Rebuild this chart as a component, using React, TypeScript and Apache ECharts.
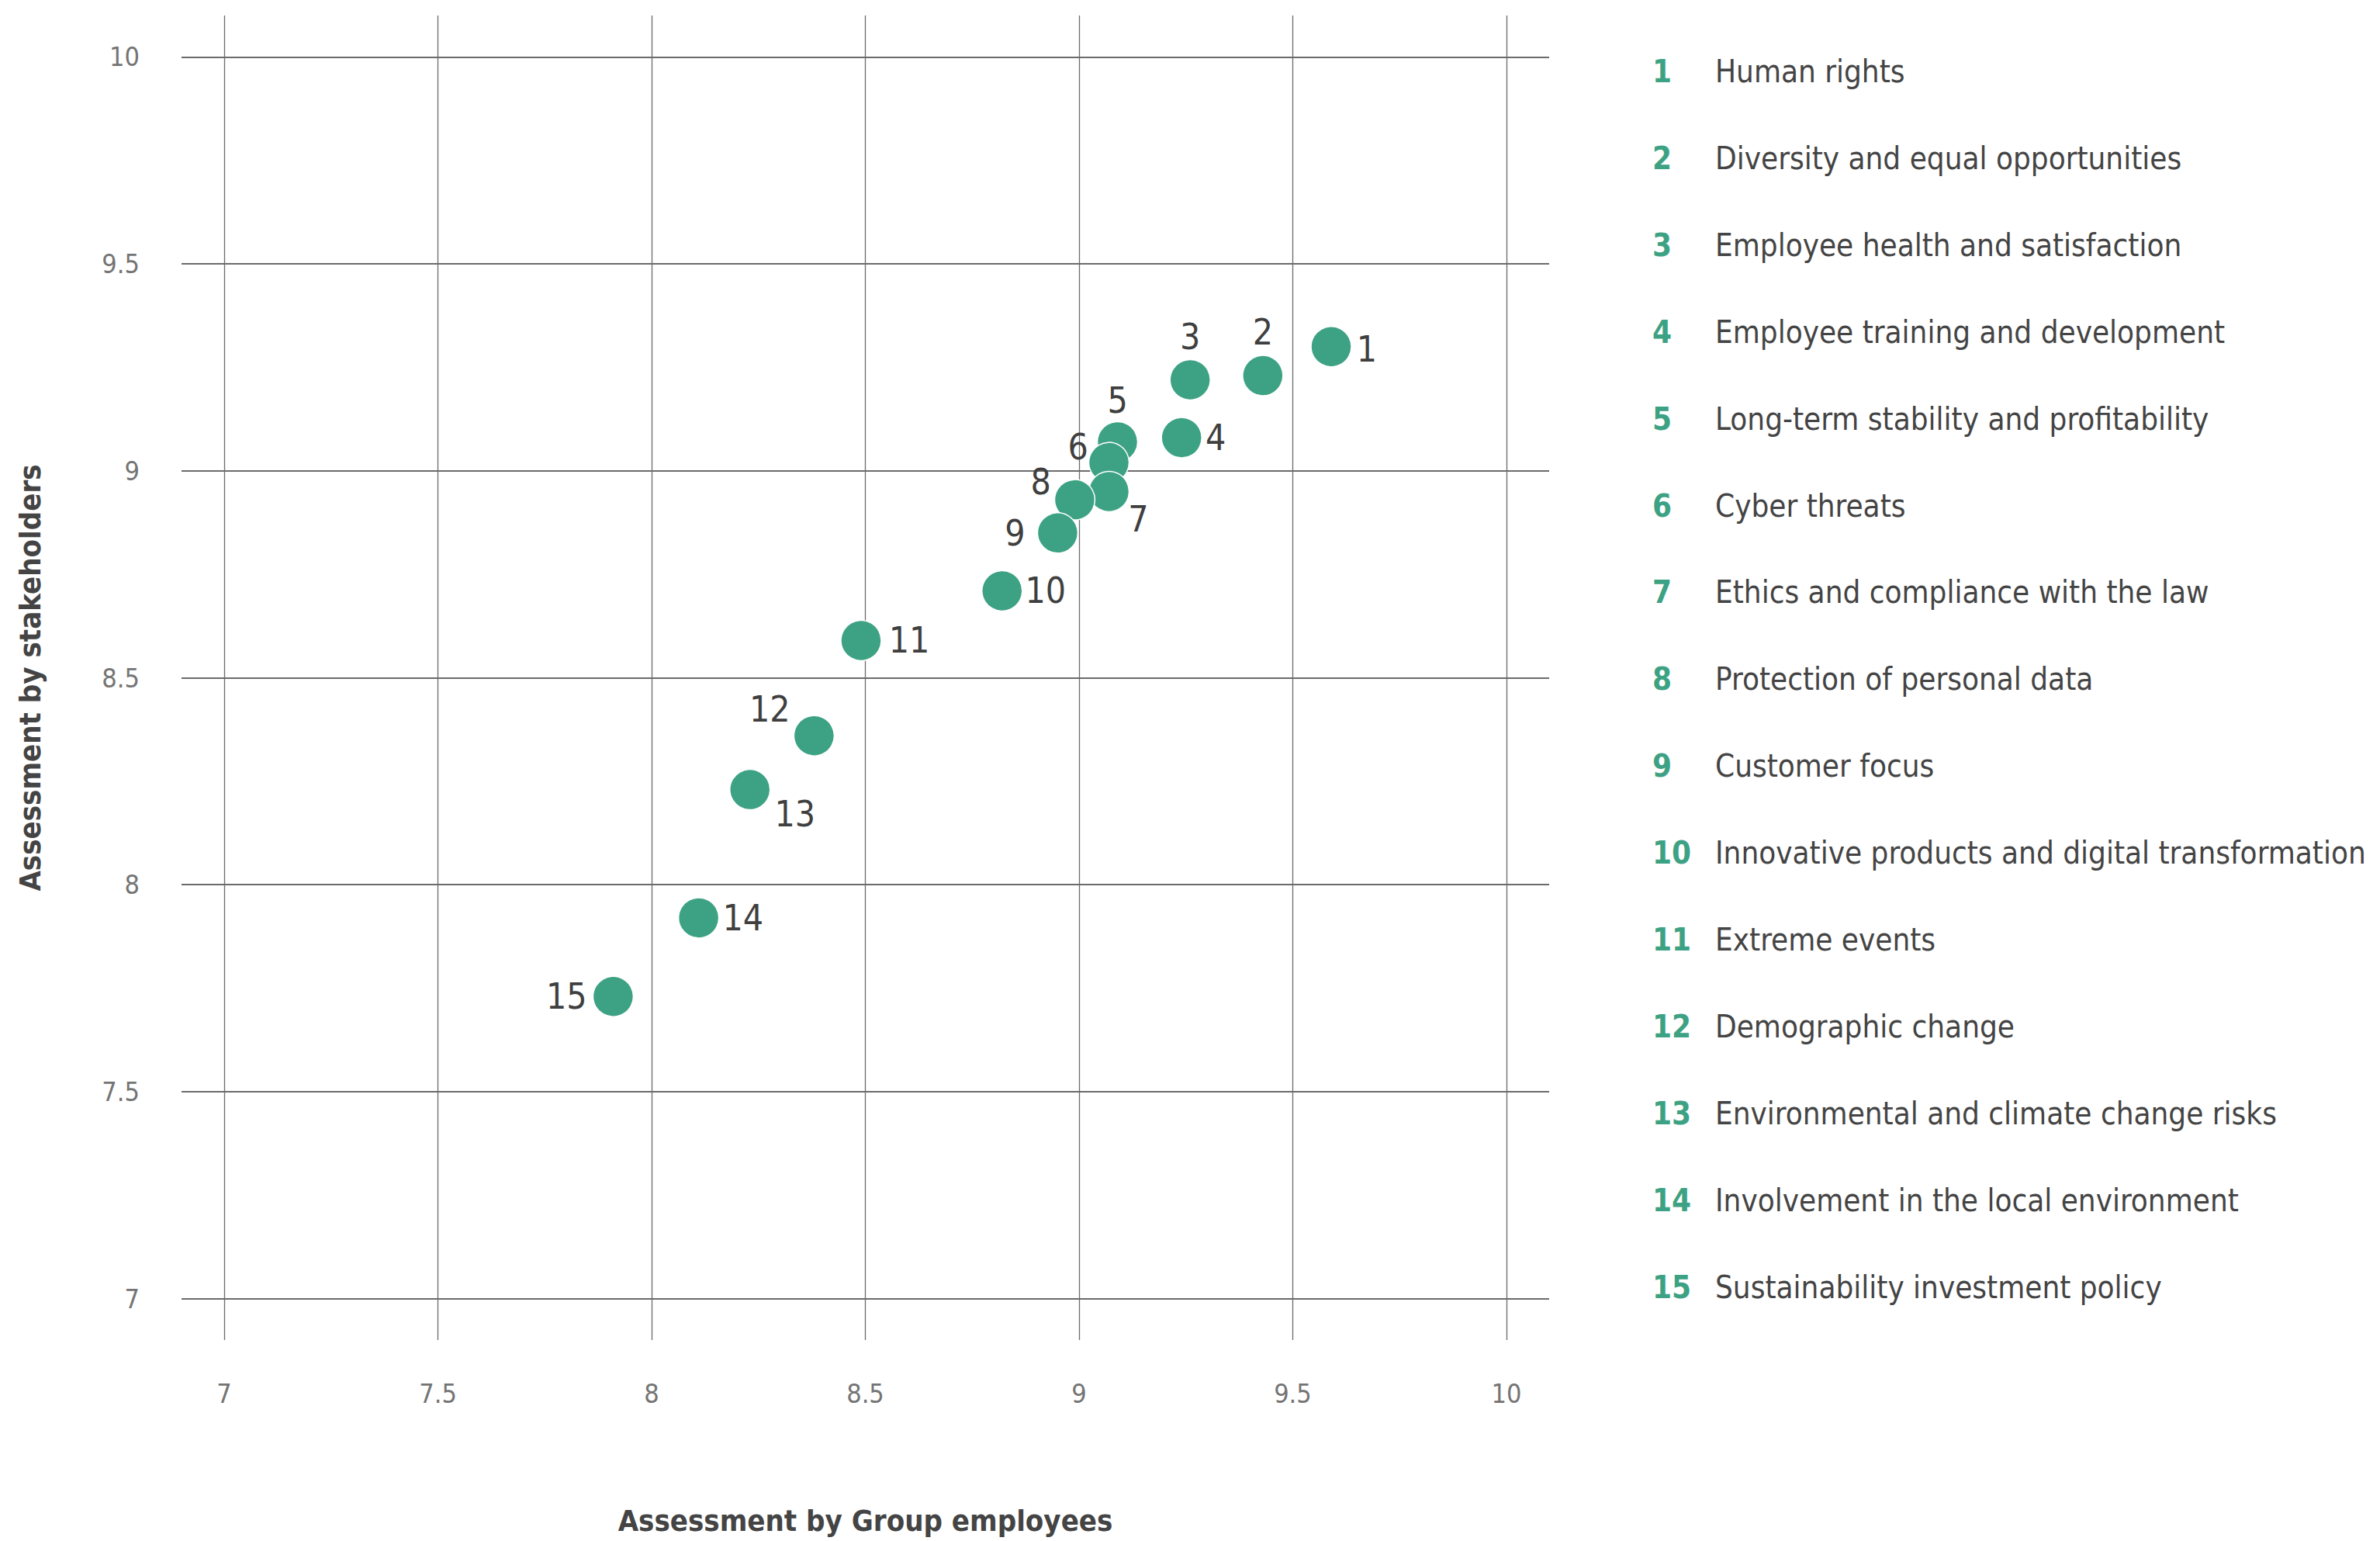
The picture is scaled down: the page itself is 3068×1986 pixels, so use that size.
import React, { useEffect, useRef } from "react";
import * as echarts from "echarts";

const topicNames = [
  "Human rights",
  "Diversity and equal opportunities",
  "Employee health and satisfaction",
  "Employee training and development",
  "Long-term stability and profitability",
  "Cyber threats",
  "Ethics and compliance with the law",
  "Protection of personal data",
  "Customer focus",
  "Innovative products and digital transformation",
  "Extreme events",
  "Demographic change",
  "Environmental and climate change risks",
  "Involvement in the local environment",
  "Sustainability investment policy",
];
const employeeScores = [9.59, 9.43, 9.26, 9.24, 9.09, 9.07, 9.07, 8.99, 8.95, 8.82, 8.49, 8.38, 8.23, 8.11, 7.91];
const stakeholderScores = [9.3, 9.23, 9.22, 9.08, 9.07, 9.02, 8.95, 8.93, 8.85, 8.71, 8.59, 8.36, 8.23, 7.92, 7.73];
const tickValues = [7, 7.5, 8, 8.5, 9, 9.5, 10];

// label placement per point (style only)
const labelPlacement: { position: string; distance: number; offset: [number, number] }[] = [
  { position: "right", distance: 6, offset: [0, 3] },
  { position: "top", distance: 6, offset: [0, 0] },
  { position: "top", distance: 6, offset: [0, 0] },
  { position: "right", distance: 4, offset: [0, 0] },
  { position: "top", distance: 4, offset: [0, 0] },
  { position: "left", distance: 0, offset: [0, -20] },
  { position: "right", distance: -2, offset: [0, 36] },
  { position: "left", distance: 4, offset: [0, -23] },
  { position: "left", distance: 15, offset: [0, 0] },
  { position: "right", distance: 3, offset: [0, 0] },
  { position: "right", distance: 9, offset: [0, 0] },
  { position: "left", distance: 4, offset: [0, -34] },
  { position: "right", distance: 5, offset: [0, 31] },
  { position: "right", distance: 4, offset: [0, 0] },
  { position: "left", distance: 7, offset: [0, 0] },
];

const GREEN = "#3da283";
const FONT = "'DejaVu Sans Condensed', 'DejaVu Sans', sans-serif";

export default function App() {
  const ref = useRef<HTMLDivElement>(null);
  useEffect(() => {
    if (!ref.current) return;
    const chart = echarts.init(ref.current, null, { renderer: "svg" });

    const data = employeeScores.map((x, i) => ({
      value: [x, stakeholderScores[i]],
      name: String(i + 1),
      label: {
        position: labelPlacement[i].position,
        distance: labelPlacement[i].distance,
        offset: labelPlacement[i].offset,
      },
    }));

    const legendGraphics: any[] = [];
    topicNames.forEach((t, i) => {
      const y = 92 + i * 111.9;
      legendGraphics.push({
        type: "text",
        x: 2130,
        y,
        style: {
          text: String(i + 1),
          fill: GREEN,
          font: `bold 40px ${FONT}`,
          align: "left",
          verticalAlign: "middle",
        },
      });
      legendGraphics.push({
        type: "text",
        x: 2211,
        y,
        style: {
          text: t,
          fill: "#444444",
          font: `normal 40px ${FONT}`,
          align: "left",
          verticalAlign: "middle",
        },
      });
    });

    chart.setOption({
      animation: false,
      backgroundColor: "#ffffff",
      grid: { left: 234, right: 1071, top: 20, bottom: 259, containLabel: false },
      xAxis: {
        type: "value",
        min: 6.9,
        max: 10.1,
        name: "Assessment by Group employees",
        nameLocation: "middle",
        nameGap: 214,
        nameTextStyle: { fontFamily: FONT, fontSize: 38, fontWeight: "bold", color: "#444444" },
        axisLine: { show: false },
        axisTick: { show: false, customValues: tickValues },
        splitLine: { show: false },
        axisLabel: {
          customValues: tickValues,
          margin: 52,
          fontFamily: FONT,
          fontSize: 34,
          color: "#747474",
          formatter: (v: number) => String(v),
        },
      },
      yAxis: {
        type: "value",
        min: 6.9,
        max: 10.1,
        name: "Assessment by stakeholders",
        nameLocation: "middle",
        nameGap: 176,
        nameRotate: 90,
        nameTextStyle: { fontFamily: FONT, fontSize: 38, fontWeight: "bold", color: "#444444" },
        axisLine: { show: false },
        axisTick: { show: false, customValues: tickValues },
        splitLine: { show: false },
        axisLabel: {
          customValues: tickValues,
          margin: 54,
          fontFamily: FONT,
          fontSize: 34,
          color: "#747474",
          formatter: (v: number) => String(v),
        },
      },
      series: [
        {
          type: "scatter",
          z: 3,
          symbolSize: 52,
          data,
          itemStyle: { color: GREEN, opacity: 1, borderColor: "#ffffff", borderWidth: 1.5 },
          label: {
            show: true,
            formatter: "{b}",
            fontFamily: FONT,
            fontSize: 46,
            color: "#3f3f3f",
          },
          emphasis: { disabled: true },
          markLine: {
            z: 1,
            silent: true,
            symbol: "none",
            animation: false,
            label: { show: false },
            emphasis: { disabled: true },
            data: [
              ...tickValues.map((v) => ({ xAxis: v, lineStyle: { color: "#6b6b6b", width: 1.3, type: "solid" } })),
              ...tickValues.map((v) => ({ yAxis: v, lineStyle: { color: "#6b6b6b", width: 2, type: "solid" } })),
            ],
          },
        },
      ],
      graphic: legendGraphics,
    });
    return () => chart.dispose();
  }, []);
  return <div ref={ref} style={{ position: "fixed", left: 0, top: 0, width: 3068, height: 1986 }} />;
}
